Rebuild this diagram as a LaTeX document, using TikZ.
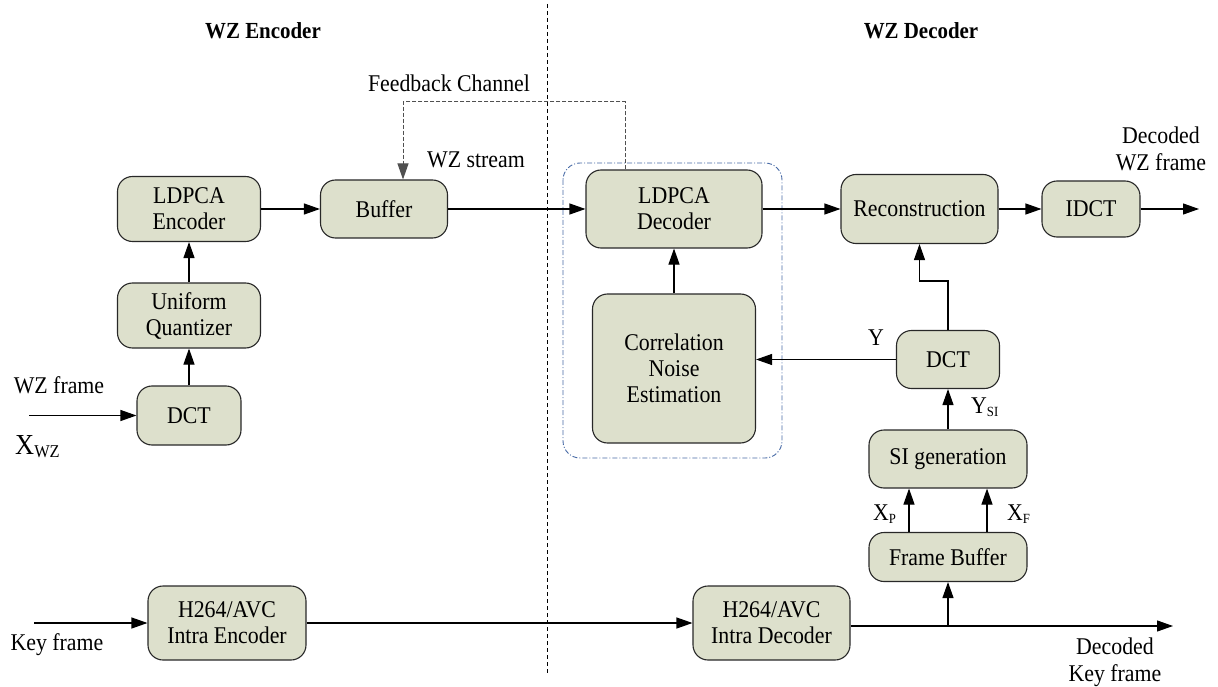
\documentclass[tikz,border=0pt]{standalone}
\usepackage{fontspec}
\setmainfont{Liberation Serif}[FakeStretch=0.91]
\usetikzlibrary{arrows.meta,calc}
\definecolor{boxfill}{RGB}{221,224,204}
\definecolor{boxline}{RGB}{40,40,40}
\definecolor{grpline}{RGB}{70,105,165}
\definecolor{fbline}{RGB}{80,80,80}
\newcommand\lowsub[1]{\raisebox{-2.5pt}{\fontsize{14}{14}\selectfont #1}}
\begin{document}
\begin{tikzpicture}[x=1pt,y=-1pt,
  blk/.style={draw=boxline, fill=boxfill, line width=1.1pt, rounded corners=15pt,
              align=center, inner sep=0pt, font=\fontsize{24}{26}\selectfont},
  arr/.style={line width=1.1pt, -{Triangle[length=16pt,width=11pt]}},
  lbl/.style={font=\fontsize{24}{27}\selectfont, inner sep=0pt, align=center},
  head/.style={font=\fontsize{23}{24}\selectfont\bfseries, inner sep=0pt},
]
\useasboundingbox (0,0) rectangle (1218,687);

% encoder / decoder split
\draw[line width=0.9pt, dash pattern=on 4pt off 3pt] (547,4) -- (547,673);
\node[head] (hEnc) at (263,31) {WZ Encoder};
\node[head] (hDec) at (921,31) {WZ Decoder};

% grouping frame around the LDPCA decoder and noise estimation
\draw[grpline, line width=0.9pt, rounded corners=17pt,
      dash pattern=on 5pt off 2pt on 1pt off 2pt] (563,163) rectangle (782,458);

% encoder blocks
\node[blk, minimum width=143pt, minimum height=65pt] (encL) at (189,209) {LDPCA\\Encoder};
\node[blk, minimum width=143pt, minimum height=65pt] (quant) at (189,315.5) {Uniform\\Quantizer};
\node[blk, minimum width=104pt, minimum height=59pt] (dctE) at (189,415.5) {DCT};
\node[blk, minimum width=127pt, minimum height=58pt] (buf) at (384,209) {Buffer};
\node[blk, minimum width=158pt, minimum height=74pt] (intE) at (227,623) {H264/AVC\\Intra Encoder};

% decoder blocks
\node[blk, minimum width=176pt, minimum height=78pt] (decL) at (674,209) {LDPCA\\Decoder};
\node[blk, minimum width=163pt, minimum height=149pt] (cne) at (674,368.5) {Correlation\\Noise\\Estimation};
\node[blk, minimum width=157pt, minimum height=69pt] (rec) at (919.5,209) {Reconstruction};
\node[blk, minimum width=98pt, minimum height=56pt] (idct) at (1091,209) {IDCT};
\node[blk, minimum width=103pt, minimum height=58pt] (dctD) at (948,359.5) {DCT};
\node[blk, minimum width=158pt, minimum height=58pt] (sig) at (948,459) {SI generation};
\node[blk, minimum width=158pt, minimum height=49pt] (fbuf) at (948,557) {Frame Buffer};
\node[blk, minimum width=157pt, minimum height=74pt] (intD) at (771.5,623) {H264/AVC\\Intra Decoder};

% free ends and bends
\coordinate (inWZ) at (29,415.5);
\coordinate (inKey) at (34,623);
\coordinate (outWZ) at (1199,209);
\coordinate (outKey) at (1173,626);
\coordinate (fbA) at (625,102);
\coordinate (fbB) at (403,102);
\coordinate (kink) at (0,281);
\coordinate (tap) at (948,626);

% encoder path
\draw[arr] (inWZ) -- (dctE.west);
\draw[arr] (dctE.north) -- (quant.south);
\draw[arr] (quant.north) -- (encL.south);
\draw[arr] (encL.east) -- (buf.west);
\draw[arr] (buf.east) -- (decL.west);

% feedback channel
\draw[fbline, line width=1pt, dash pattern=on 4pt off 2pt, -{Triangle[length=16pt,width=11pt]}]
  (decL.north -| fbA) -- (fbA) -- (fbB) -- (buf.north -| fbB);

% decoder path
\draw[arr] (decL.east) -- (rec.west);
\draw[arr] (rec.east) -- (idct.west);
\draw[arr] (idct.east) -- (outWZ);
\draw[arr] (cne.north) -- (decL.south);
\draw[arr] (dctD.west) -- (dctD.west -| cne.east);
\draw[arr] (dctD.north) -- (dctD.north |- kink) -| (rec.south);
\draw[arr] (sig.north) -- (dctD.south);
\draw[arr] ($(fbuf.north)+(-39,0)$) -- ($(sig.south)+(-39,0)$);
\draw[arr] ($(fbuf.north)+(39,0)$) -- ($(sig.south)+(39,0)$);

% key frame path
\draw[arr] (inKey) -- (intE.west);
\draw[arr] (intE.east) -- (intD.west);
\draw[arr] (intD.east |- outKey) -- (outKey);
\draw[arr] (tap) -- (fbuf.south);

% labels
\node[lbl] (tFb) at (449,83) {Feedback Channel};
\node[lbl] (tStream) at (476,160) {WZ stream};
\node[lbl] (tWZin) at (59,385) {WZ frame};
\node[lbl, anchor=west] (tXwz) at (15,447) {\fontsize{29}{29}\selectfont X\raisebox{-3pt}{\fontsize{18}{18}\selectfont WZ}};
\node[lbl] (tKey) at (57,645) {Key frame};
\node[lbl] (tOutWZ) at (1161,149) {Decoded\\WZ frame};
\node[lbl] (tOutKey) at (1115,662) {Decoded\\Key frame};
\node[lbl] (tY) at (876,338) {Y};
\node[lbl, anchor=west] (tYsi) at (971,407) {Y\lowsub{SI}};
\node[lbl, anchor=west] (tXp) at (873,514) {X\lowsub{P}};
\node[lbl, anchor=west] (tXf) at (1007,514) {X\lowsub{F}};
\end{tikzpicture}
\end{document}
